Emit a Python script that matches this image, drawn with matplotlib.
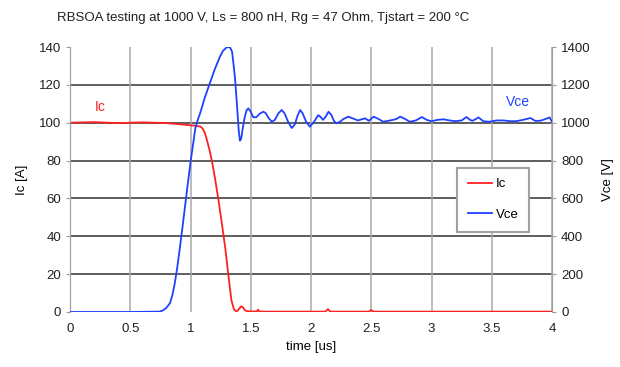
import matplotlib.pyplot as plt
import numpy as np

plt.rcParams['font.family'] = ['Liberation Sans', 'DejaVu Sans']
plt.rcParams['font.size'] = 9

# Collector current Ic [A]
t_ic = [0, 0.2, 0.4, 0.6, 0.8, 0.9, 0.97, 1.03, 1.08, 1.10, 1.12, 1.14, 1.16,
        1.18, 1.205, 1.23, 1.26, 1.29, 1.315, 1.34, 1.36, 1.375, 1.39, 1.405,
        1.42, 1.435, 1.45, 1.47, 1.52, 1.55, 1.56, 1.57, 1.60,
        2.12, 2.14, 2.16, 2.48, 2.50, 2.52, 3.0, 3.5, 4.0]
ic = [100, 100.3, 99.8, 100.2, 99.8, 99.3, 98.8, 98.5, 98, 97, 94.5, 90, 85,
      79, 70, 60, 47, 33, 19, 6, 1.5, 0.5, 0.6, 1.8,
      3, 2.5, 1, 0.4, 0.3, 0.3, 1.2, 0.3, 0.2,
      0.2, 1.5, 0.2, 0.2, 1, 0.2, 0.2, 0.2, 0.2]

# Collector-emitter voltage Vce [V]
t_vce = [0, 0.5, 0.74, 0.77, 0.80, 0.83, 0.85, 0.87, 0.89, 0.91, 0.93, 0.955,
         0.98, 1.0, 1.02, 1.04, 1.06, 1.08, 1.12, 1.16, 1.2, 1.245, 1.27,
         1.29, 1.30, 1.314, 1.33, 1.345, 1.355, 1.37, 1.385, 1.40, 1.41,
         1.42, 1.435, 1.45, 1.465, 1.48, 1.50, 1.52, 1.545, 1.575, 1.605,
         1.625, 1.645, 1.674, 1.70, 1.73, 1.757, 1.78, 1.81, 1.84, 1.865,
         1.89, 1.91, 1.93, 1.96, 1.99, 2.02, 2.06, 2.08, 2.10, 2.125, 2.145,
         2.17, 2.19, 2.21, 2.24, 2.27, 2.31, 2.35, 2.39, 2.42, 2.45, 2.48,
         2.52, 2.56, 2.60, 2.64, 2.68, 2.71, 2.74, 2.78, 2.82, 2.87, 2.92,
         2.96, 3.00, 3.05, 3.10, 3.15, 3.20, 3.25, 3.29, 3.32, 3.34, 3.37,
         3.39, 3.43, 3.48, 3.54, 3.60, 3.65, 3.70, 3.76, 3.82, 3.86, 3.90,
         3.94, 3.98, 4.0]
vce = [0, 0, 2, 8, 22, 47, 90, 153, 235, 330, 430, 560,
       690, 790, 880, 970, 1015, 1050, 1135, 1208, 1280, 1350, 1380,
       1392, 1398, 1400, 1396, 1375, 1320, 1230, 1100, 960, 905,
       915, 975, 1030, 1065, 1076, 1058, 1030, 1028, 1048, 1058,
       1050, 1028, 1005, 1015, 1050, 1067, 1050, 1005, 972, 990,
       1040, 1067, 1050, 1005, 979, 1000, 1040, 1030, 1015, 1035, 1058,
       1040, 1010, 997, 1005, 1020, 1032, 1022, 1012, 1018, 1023, 1010,
       1032, 1020, 1005, 1010, 1015, 1020, 1032, 1020, 1005, 1012, 1030,
       1015, 1008, 1015, 1018, 1012, 1008, 1012, 1030, 1015, 1010, 1020,
       1028, 1008, 1005, 1012, 1012, 1008, 1008, 1015, 1025, 1010, 1010,
       1018, 1028, 1005]

fig = plt.figure(figsize=(6.2, 3.67), dpi=100)
ax = fig.add_axes([70 / 620, 1 - 312 / 367, 482 / 620, 265 / 367])
ax2 = ax.twinx()

ax.set_xlim(0, 4)
ax.set_ylim(0, 140)
ax2.set_ylim(0, 1400)
ax.set_xticks(np.arange(0, 4.01, 0.5))
ax.set_xticklabels(['0', '0.5', '1', '1.5', '2', '2.5', '3', '3.5', '4'])
ax.set_yticks(range(0, 141, 20))
ax2.set_yticks(range(0, 1401, 200))

# grid: dark horizontal, light vertical
for y in range(20, 121, 20):
    ax.axhline(y, color='#505050', lw=1.3, zorder=0)
for x in np.arange(0.5, 4.01, 0.5):
    ax.axvline(x, color='#a8a8a8', lw=1.1, zorder=0)

for a in (ax, ax2):
    a.spines['top'].set_visible(False)
    a.spines['bottom'].set_visible(False)
    a.spines['left'].set_color('#a0a0a0')
    a.spines['right'].set_color('#a0a0a0')
    a.tick_params(length=3, color='#a0a0a0', labelcolor='#202020',
                  labelsize=9.5)
ax.tick_params(axis='x', length=0, pad=8)

ln_ic, = ax.plot(t_ic, ic, color='#ff2020', lw=1.3, zorder=3,
                 solid_joinstyle='round')
ln_vce, = ax2.plot(t_vce, vce, color='#2040ff', lw=1.3, zorder=3,
                   solid_joinstyle='round')

ax.text(0.25, 106, 'Ic', color='#ff2020', fontsize=10, ha='center')
ax2.text(3.72, 1090, 'Vce', color='#2040ff', fontsize=10, ha='center')

ax.set_xlabel('time [us]', fontsize=9.5, labelpad=4)
ax.set_ylabel('Ic [A]', fontsize=9.5, labelpad=8)
ax2.set_ylabel('Vce [V]', fontsize=9.5, labelpad=8)

leg = ax2.legend([ln_ic, ln_vce], ['Ic', 'Vce'], loc='upper left',
                 bbox_to_anchor=(0.79, 0.57), fancybox=False,
                 edgecolor='#a0a0a0', framealpha=1, fontsize=9.5,
                 handlelength=1.8, handletextpad=0.3, borderpad=0.8,
                 labelspacing=1.4)
leg.get_frame().set_linewidth(1.5)

fig.text(263 / 620, 1 - 18 / 367,
         'RBSOA testing at 1000 V, Ls = 800 nH, Rg = 47 Ohm, Tjstart = 200 °C',
         ha='center', va='center', fontsize=9.5, color='#202020')

fig.savefig('out.png', dpi=100)
